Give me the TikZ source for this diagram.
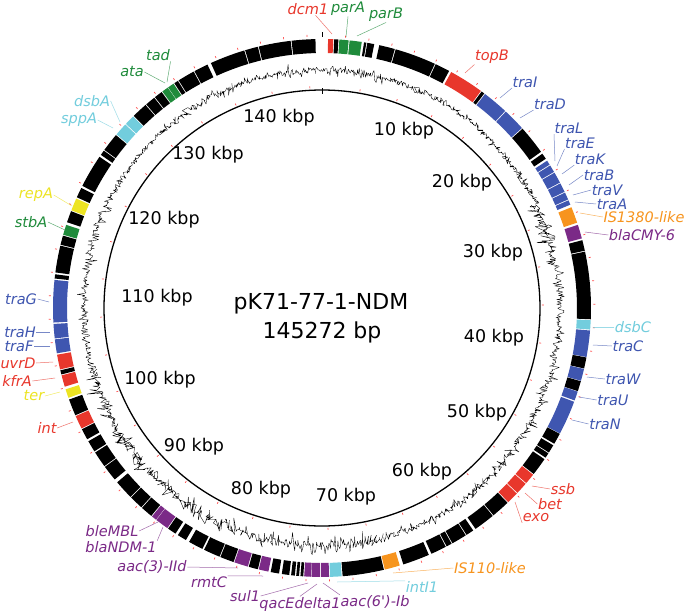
\documentclass[tikz,border=0pt]{standalone}
\usepackage{fontspec}
\setmainfont{DejaVu Sans}
\newfontfamily\labfont{DejaVu Sans}[Ligatures=TeXOff]
\definecolor{gred}{HTML}{E8372C}
\definecolor{ggreen}{HTML}{1F8B3B}
\definecolor{gblue}{HTML}{3F56B0}
\definecolor{gcyan}{HTML}{72CDDD}
\definecolor{gorange}{HTML}{F7941E}
\definecolor{gpurple}{HTML}{7B2A87}
\definecolor{gyellow}{HTML}{EDE423}
\newcommand\ringseg[3]{\fill[fill=#3] ({#1-90}:255) arc[start angle={#1-90}, end angle={#2-90}, radius=255] -- ({#2-90}:269) arc[start angle={#2-90}, end angle={#1-90}, radius=269] -- cycle;}
\newcommand\glabel[6]{\node[lab,text=#2] (#1) at (#3) {#4}; \coordinate (#1-e) at (#6); \draw[lead,draw=#2] (#1.#5) -- (#1-e);}
\begin{document}
\begin{tikzpicture}[x=1pt,y=-1pt,
  lab/.style={font=\labfont\fontsize{14.5}{16}\selectfont\itshape, inner sep=0.5pt},
  kbp/.style={font=\fontsize{17.5}{20}\selectfont, inner sep=0pt},
  ttl/.style={font=\fontsize{22}{26}\selectfont, inner sep=0pt, anchor=base},
  lead/.style={line width=0.5pt, draw opacity=0.7},
  gcl/.style={line width=0.35pt, line join=bevel},
  rtick/.style={draw=red!70, line width=0.7pt}]
\fill[white] (0,0) rectangle (685,615);
\useasboundingbox (0,0) rectangle (685,615);
\begin{scope}[shift={(322,308)}]
  % feature ring
  \foreach \a/\b/\c in {1.3/2.4/gred, 2.6/3.5/black, 3.7/5.7/ggreen, 5.9/8.5/ggreen, 9.0/9.5/black, 9.7/11.2/black,
    12.3/15.7/black, 15.9/24.8/black, 25.0/28.2/black, 28.7/36.2/gred, 36.4/37.1/black, 37.3/42.9/gblue, 43.1/48.0/gblue,
    48.2/54.5/black, 55.0/56.3/black, 56.8/57.8/gblue, 58.0/59.6/gblue, 59.8/62.2/gblue, 62.4/64.4/gblue, 64.6/66.2/gblue,
    66.4/67.4/gblue, 68.0/71.5/gorange, 72.0/75.0/gpurple, 75.4/77.7/black, 77.9/92.4/black, 92.6/94.6/gcyan,
    94.8/100.5/gblue, 100.6/103.0/black, 103.1/105.7/gblue, 105.8/108.0/black, 108.1/110.1/gblue, 110.4/117.8/gblue,
    117.9/120.3/black, 120.7/122.5/black, 122.7/123.8/black, 124.2/128.1/black, 128.3/130.6/gred, 130.8/133.4/gred,
    133.6/136.2/gred, 136.4/140.4/black, 140.6/145.2/black, 145.8/147.5/black, 147.7/151.0/black, 151.2/152.4/black,
    152.6/156.0/black, 156.6/162.4/black, 163.2/166.5/gorange, 166.7/175.6/black, 175.8/178.3/gcyan, 178.5/180.2/gpurple,
    180.4/182.2/gpurple, 182.3/183.8/gpurple, 184.0/184.6/black, 184.9/185.5/black, 185.8/186.6/black, 187.0/188.6/black,
    189.2/191.0/black, 191.5/193.6/gpurple, 193.8/195.8/black, 196.0/199.0/gpurple, 199.2/202.2/black, 202.4/206.0/black,
    206.4/209.6/black, 210.4/212.4/black, 213.0/214.9/black, 215.1/218.0/gpurple, 218.1/219.2/gpurple, 219.4/222.0/black,
    222.2/225.2/black, 225.4/229.6/black, 230.4/233.8/black, 234.0/237.5/black, 237.8/240.3/black, 240.8/243.2/black,
    243.4/246.3/gred, 246.5/250.1/black, 250.5/252.4/gyellow, 253.0/255.5/gred, 255.7/256.6/black, 256.8/260.0/gred,
    260.3/263.3/gblue, 263.5/266.6/gblue, 266.9/276.0/gblue, 276.3/277.2/black, 277.6/283.4/black, 283.6/285.6/black,
    285.8/288.0/ggreen, 288.6/291.1/black, 291.3/294.0/gyellow, 294.3/296.5/black, 297.0/304.2/black, 304.7/305.8/black,
    306.0/310.0/black, 310.2/313.0/gcyan, 313.2/315.4/gcyan, 315.6/319.0/black, 319.2/321.4/black, 321.6/323.4/black,
    323.6/325.0/ggreen, 325.1/326.5/ggreen, 326.7/327.6/black, 327.8/331.5/black, 331.7/334.8/black, 335.6/343.2/black,
    343.4/346.2/black, 346.4/353.3/black, 353.5/358.6/black}
    {\ringseg{\a}{\b}{\c}}
  % inner circle
  \draw[line width=1.3pt] (0,0) circle[radius=218];
  % GC plot
  \pgfmathsetseed{12345}
  \foreach \s/\e/\n/\A/\B/\R in {-1.5/55/300/2.2/9/238, 55/64/50/3/11/238, 64/80/100/3.5/18/236, 80/165/450/2.8/11/238,
      165/200/190/4/16/238, 200/255/300/4/18/238, 255/358.5/540/2.6/10/238}
    {\draw[gcl] plot[domain=\s:\e, samples=\n, variable=\t] ({\t-90}:{\R+\A*(2*rnd-1)+\B*(2*rnd-1)*(2*rnd-1)*(2*rnd-1)});}
  % ticks
  \foreach \k in {0,...,72} {\pgfmathsetmacro\ang{\k*4.9562-90}\draw[rtick] (\ang:271.5) -- (\ang:273.5);}
  \foreach \k in {1,...,36} {\pgfmathsetmacro\ang{\k*9.9124-90}\draw[rtick] (\ang:220) -- (\ang:222);}
  \draw[line width=0.8pt] (-90:271) -- (-90:276);
  \draw[line width=0.8pt] (-90:214) -- (-90:220);
\end{scope}
% kbp labels
\node[kbp] (k10) at (404,131) {10 kbp};
\node[kbp] (k20) at (462,183) {20 kbp};
\node[kbp] (k30) at (493,253) {30 kbp};
\node[kbp] (k40) at (494,338) {40 kbp};
\node[kbp] (k50) at (477,413) {50 kbp};
\node[kbp] (k60) at (422,472) {60 kbp};
\node[kbp] (k70) at (346,497) {70 kbp};
\node[kbp] (k80) at (261,490) {80 kbp};
\node[kbp] (k90) at (194,447) {90 kbp};
\node[kbp] (k100) at (160,380) {100 kbp};
\node[kbp] (k110) at (157,298) {110 kbp};
\node[kbp] (k120) at (164,220) {120 kbp};
\node[kbp] (k130) at (208,155) {130 kbp};
\node[kbp] (k140) at (279,118) {140 kbp};
% title
\node[ttl] (title1) at (321,309) {pK71-77-1-NDM};
\node[ttl] (title2) at (322,338) {145272 bp};
% gene labels
\glabel{dcm1}{gred}{308,9}{dcm1}{-40}{332,34}
\glabel{parA}{ggreen}{348,9}{parA}{south}{346,37}
\glabel{parB}{ggreen}{386,15}{parB}{south}{357,36}
\glabel{topB}{gred}{492,57}{topB}{south west}{465,73}
\glabel{traI}{gblue}{525,82}{traI}{south west}{500,98}
\glabel{traD}{gblue}{550,104}{traD}{south west}{520,118}
\glabel{traL}{gblue}{569,128}{traL}{south west}{555,161}
\glabel{traE}{gblue}{580,143}{traE}{south west}{557,166}
\glabel{traK}{gblue}{590,159}{traK}{south west}{562,174}
\glabel{traB}{gblue}{599,175}{traB}{west}{569,185}
\glabel{traV}{gblue}{607,190}{traV}{west}{573,195}
\glabel{traA}{gblue}{612,204}{traA}{west}{575,202}
\glabel{isa}{gorange}{644,217}{IS1380-like}{west}{580,213}
\glabel{cmy}{gpurple}{642,235}{blaCMY-6}{west}{585,232}
\glabel{dsbC}{gcyan}{633,327}{dsbC}{west}{593,327}
\glabel{traC}{gblue}{628,346}{traC}{west}{593,345}
\glabel{traW}{gblue}{623,379}{traW}{west}{587,377}
\glabel{traU}{gblue}{613,400}{traU}{west}{579,397}
\glabel{traN}{gblue}{605,424}{traN}{west}{572,420}
\glabel{ssb}{gred}{563,489}{ssb}{west}{532,486}
\glabel{bet}{gred}{550,504}{bet}{west}{525,493}
\glabel{exo}{gred}{536,518}{exo}{south west}{515,502}
\glabel{isb}{gorange}{490,568}{IS110-like}{west}{393,573}
\glabel{intone}{gcyan}{422,587}{intI1}{north west}{337,582}
\glabel{aacsix}{gpurple}{375,602}{aac(6')-Ib}{north west}{323,583}
\glabel{qac}{gpurple}{300,604}{qacEdelta1}{north}{317,584}
\glabel{sul}{gpurple}{245,596}{sul1}{east}{308,583}
\glabel{rmtC}{gpurple}{209,582}{rmtC}{north east}{263,576}
\glabel{aacthree}{gpurple}{152,567}{aac(3)-IId}{east}{238,568}
\glabel{ndm}{gpurple}{121,547}{blaNDM-1}{north east}{163,527}
\glabel{ble}{gpurple}{112,531}{bleMBL}{east}{158,522}
\glabel{intg}{gred}{47,428}{int}{east}{73,422}
\glabel{ter}{gyellow}{34,396}{ter}{east}{60,392}
\glabel{kfrA}{gred}{17,381}{kfrA}{east}{55,378}
\glabel{uvrD}{gred}{18,363}{uvrD}{east}{53,362}
\glabel{traF}{gblue}{19,346}{traF}{east}{50,346}
\glabel{traH}{gblue}{20,332}{traH}{east}{50,332}
\glabel{traG}{gblue}{21,299}{traG}{east}{49,302}
\glabel{stbA}{ggreen}{31,222}{stbA}{east}{65,230}
\glabel{repA}{gyellow}{36,195}{repA}{east}{72,206}
\glabel{sppA}{gcyan}{79,120}{sppA}{east}{113,128}
\glabel{dsbA}{gcyan}{92,101}{dsbA}{east}{120,122}
\glabel{ata}{ggreen}{132,72}{ata}{east}{165,83}
\glabel{tad}{ggreen}{158,55}{tad}{south east}{167,82}
\end{tikzpicture}
\end{document}
